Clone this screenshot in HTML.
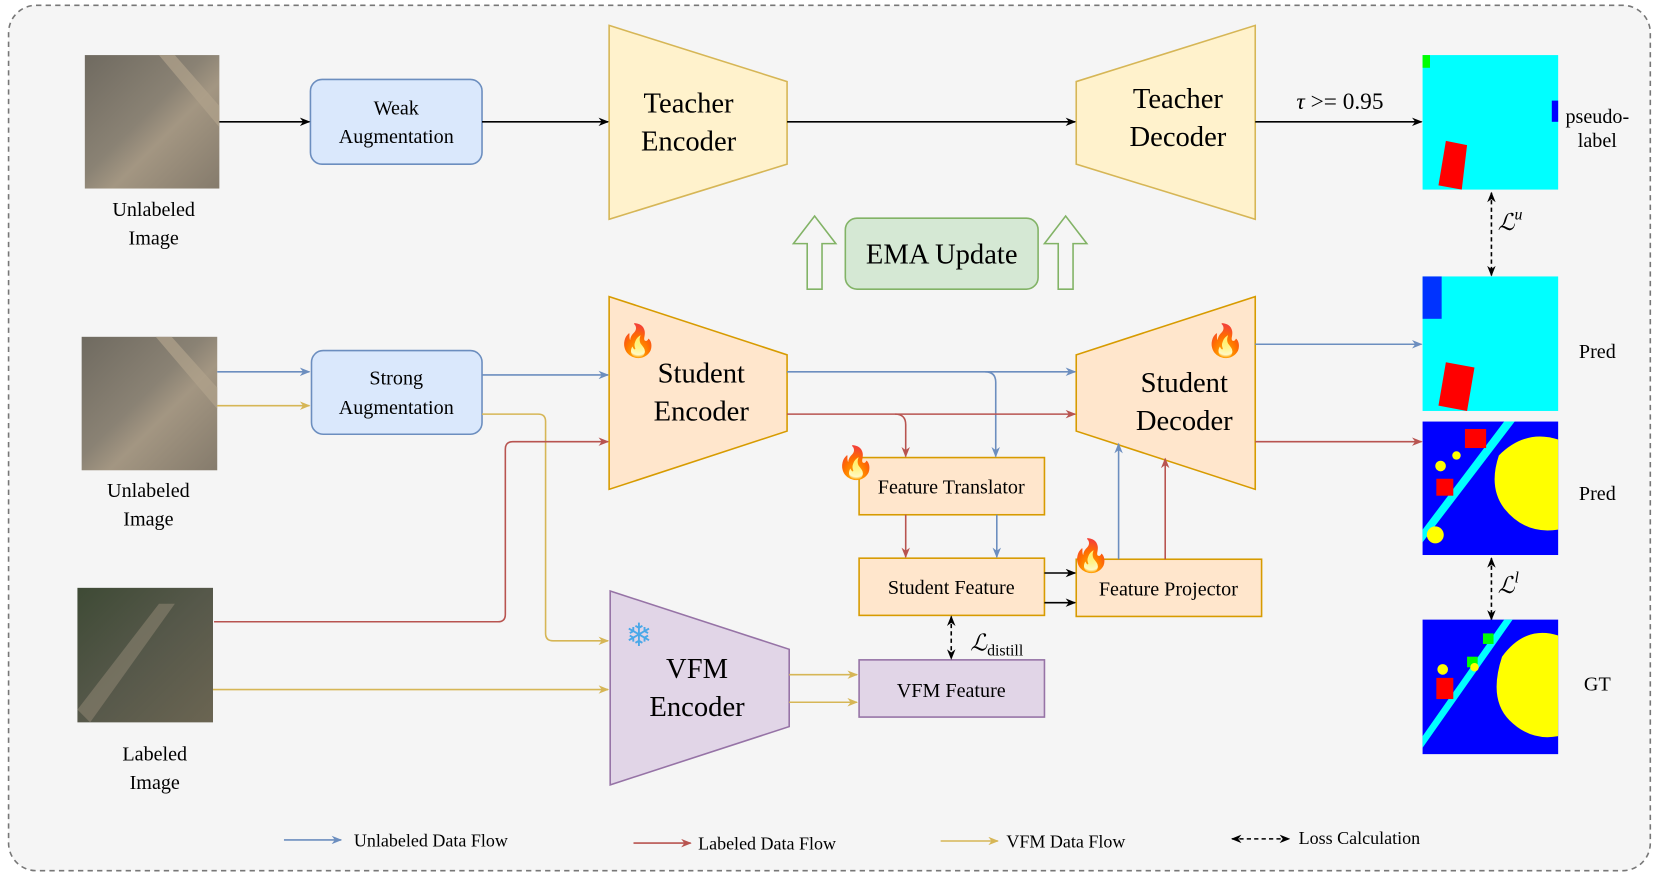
<!DOCTYPE html>
<html><head><meta charset="utf-8"><style>
html,body{margin:0;padding:0;background:#fff;}
svg{display:block;}
text{font-family:"Liberation Serif",serif;fill:#000;}
</style></head><body>
<svg width="1661" height="877" viewBox="0 0 1568 828" xmlns="http://www.w3.org/2000/svg">
<defs>
<marker id="ab" markerWidth="10" markerHeight="8" refX="9" refY="4" orient="auto" markerUnits="userSpaceOnUse"><path d="M0,0 L10,4 L0,8 L3,4z" fill="#6c8ebf"/></marker>
<marker id="ar" markerWidth="10" markerHeight="8" refX="9" refY="4" orient="auto" markerUnits="userSpaceOnUse"><path d="M0,0 L10,4 L0,8 L3,4z" fill="#b85450"/></marker>
<marker id="ay" markerWidth="10" markerHeight="8" refX="9" refY="4" orient="auto" markerUnits="userSpaceOnUse"><path d="M0,0 L10,4 L0,8 L3,4z" fill="#d6b656"/></marker>
<marker id="ak" markerWidth="10" markerHeight="8" refX="9" refY="4" orient="auto" markerUnits="userSpaceOnUse"><path d="M0,0 L10,4 L0,8 L3,4z" fill="#000"/></marker>
<marker id="aks" markerWidth="10" markerHeight="8" refX="1" refY="4" orient="auto" markerUnits="userSpaceOnUse"><path d="M10,0 L0,4 L10,8 L7,4z" fill="#000"/></marker>
<linearGradient id="aer" x1="0" y1="0" x2="1" y2="1">
<stop offset="0" stop-color="#6f6a60"/><stop offset="0.45" stop-color="#8a8274"/><stop offset="0.6" stop-color="#a39682"/><stop offset="1" stop-color="#857b6c"/></linearGradient>
<linearGradient id="lab" x1="0" y1="0" x2="1" y2="1">
<stop offset="0" stop-color="#3e4a35"/><stop offset="0.5" stop-color="#56584a"/><stop offset="1" stop-color="#6b6552"/></linearGradient>
</defs>
<rect x="0" y="0" width="1568" height="828" fill="#fff"/>
<rect x="8" y="5" width="1550" height="817" rx="26" fill="#f5f5f5" stroke="#777" stroke-width="1.5" stroke-dasharray="5,4"/>

<!-- images -->
<rect x="80" y="52" width="127" height="126" fill="url(#aer)"/>
<path d="M150,52 L207,120 L207,100 L165,52z" fill="#b0a38c" opacity="0.7"/>
<text x="145" y="204" font-size="19" text-anchor="middle">Unlabeled</text>
<text x="145" y="231" font-size="19" text-anchor="middle">Image</text>
<rect x="77" y="318" width="128" height="126" fill="url(#aer)"/>
<path d="M147,318 L205,386 L205,366 L162,318z" fill="#b0a38c" opacity="0.7"/>
<text x="140" y="469" font-size="19" text-anchor="middle">Unlabeled</text>
<text x="140" y="496" font-size="19" text-anchor="middle">Image</text>
<rect x="73" y="555" width="128" height="127" fill="url(#lab)"/>
<path d="M73,670 L150,570 L165,570 L85,682z" fill="#8a8270" opacity="0.6"/>
<text x="146" y="718" font-size="19" text-anchor="middle">Labeled</text>
<text x="146" y="745" font-size="19" text-anchor="middle">Image</text>

<!-- aug boxes -->
<rect x="293" y="75" width="162" height="80" rx="11" fill="#dae8fc" stroke="#6c8ebf" stroke-width="1.5"/>
<text x="374" y="108" font-size="19" text-anchor="middle">Weak</text>
<text x="374" y="135" font-size="19" text-anchor="middle">Augmentation</text>
<rect x="294" y="331" width="161" height="79" rx="11" fill="#dae8fc" stroke="#6c8ebf" stroke-width="1.5"/>
<text x="374" y="363" font-size="19" text-anchor="middle">Strong</text>
<text x="374" y="391" font-size="19" text-anchor="middle">Augmentation</text>

<!-- teacher -->
<path d="M575,24 L743,77 L743,155 L575,207z" fill="#fff2cc" stroke="#d6b656" stroke-width="1.5"/>
<text x="650" y="106" font-size="27" text-anchor="middle">Teacher</text>
<text x="650" y="142" font-size="27" text-anchor="middle">Encoder</text>
<path d="M1016,77 L1185,24 L1185,207 L1016,155z" fill="#fff2cc" stroke="#d6b656" stroke-width="1.5"/>
<text x="1112" y="102" font-size="27" text-anchor="middle">Teacher</text>
<text x="1112" y="138" font-size="27" text-anchor="middle">Decoder</text>

<line x1="207" y1="115" x2="292" y2="115" stroke="#000" stroke-width="1.5" marker-end="url(#ak)"/>
<line x1="455" y1="115" x2="574" y2="115" stroke="#000" stroke-width="1.5" marker-end="url(#ak)"/>
<line x1="743" y1="115" x2="1015" y2="115" stroke="#000" stroke-width="1.5" marker-end="url(#ak)"/>
<line x1="1185" y1="115" x2="1342" y2="115" stroke="#000" stroke-width="1.5" marker-end="url(#ak)"/>
<text x="1265" y="103" font-size="22" text-anchor="middle"><tspan font-style="italic">τ</tspan> &gt;= 0.95</text>

<!-- EMA -->
<rect x="798" y="206" width="182" height="67" rx="11" fill="#d5e8d4" stroke="#82b366" stroke-width="1.5"/>
<text x="889" y="249" font-size="27" text-anchor="middle">EMA Update</text>
<path d="M762,273 L762,230 L749,230 L769,204 L789,230 L776,230 L776,273z" fill="none" stroke="#82b366" stroke-width="1.5"/>
<path d="M999,273 L999,230 L986,230 L1006,204 L1026,230 L1013,230 L1013,273z" fill="none" stroke="#82b366" stroke-width="1.5"/>

<!-- student -->
<path d="M575,280 L743,335 L743,407 L575,462z" fill="#ffe6cc" stroke="#d79b00" stroke-width="1.5"/>
<text x="662" y="361" font-size="27" text-anchor="middle">Student</text>
<text x="662" y="397" font-size="27" text-anchor="middle">Encoder</text>
<path d="M1016,335 L1185,280 L1185,462 L1016,407z" fill="#ffe6cc" stroke="#d79b00" stroke-width="1.5"/>
<text x="1118" y="370" font-size="27" text-anchor="middle">Student</text>
<text x="1118" y="406" font-size="27" text-anchor="middle">Decoder</text>

<!-- VFM -->
<path d="M576,558 L745,613 L745,686 L576,741z" fill="#e1d5e7" stroke="#9673a6" stroke-width="1.5"/>
<text x="658" y="640" font-size="27" text-anchor="middle">VFM</text>
<text x="658" y="676" font-size="27" text-anchor="middle">Encoder</text>
<text x="603" y="610" font-size="30" text-anchor="middle" style="fill:#4aa8e8">❄</text>

<!-- small boxes -->
<rect x="811" y="432" width="175" height="54" fill="#ffe6cc" stroke="#d79b00" stroke-width="1.5"/>
<text x="898" y="466" font-size="19" text-anchor="middle">Feature Translator</text>
<rect x="811" y="527" width="175" height="54" fill="#ffe6cc" stroke="#d79b00" stroke-width="1.5"/>
<text x="898" y="561" font-size="19" text-anchor="middle">Student Feature</text>
<rect x="1016" y="528" width="175" height="54" fill="#ffe6cc" stroke="#d79b00" stroke-width="1.5"/>
<text x="1103" y="562" font-size="19" text-anchor="middle">Feature Projector</text>
<rect x="811" y="623" width="175" height="54" fill="#e1d5e7" stroke="#9673a6" stroke-width="1.5"/>
<text x="898" y="658" font-size="19" text-anchor="middle">VFM Feature</text>

<!-- fire icons -->
<g font-size="30" text-anchor="middle">
<text x="602" y="332">🔥</text><text x="808" y="447">🔥</text><text x="1030" y="535">🔥</text><text x="1157" y="332">🔥</text>
</g>

<!-- flows -->
<g fill="none" stroke-width="1.5">
<line x1="205" y1="351" x2="292" y2="351" stroke="#6c8ebf" marker-end="url(#ab)"/>
<line x1="205" y1="383" x2="292" y2="383" stroke="#d6b656" marker-end="url(#ay)"/>
<line x1="455" y1="354" x2="574" y2="354" stroke="#6c8ebf" marker-end="url(#ab)"/>
<path d="M455,391 L508,391 Q515,391 515,398 L515,598 Q515,605 522,605 L574,605" stroke="#d6b656" marker-end="url(#ay)"/>
<path d="M202,587 L470,587 Q477,587 477,580 L477,424 Q477,417 484,417 L574,417" stroke="#b85450" marker-end="url(#ar)"/>
<line x1="201" y1="651" x2="574" y2="651" stroke="#d6b656" marker-end="url(#ay)"/>
<line x1="745" y1="637" x2="809" y2="637" stroke="#d6b656" marker-end="url(#ay)"/>
<line x1="745" y1="663" x2="809" y2="663" stroke="#d6b656" marker-end="url(#ay)"/>
<line x1="743" y1="351" x2="1015" y2="351" stroke="#6c8ebf" marker-end="url(#ab)"/>
<path d="M930,351 Q940,351 940,361 L940,431" stroke="#6c8ebf" marker-end="url(#ab)"/>
<line x1="743" y1="391" x2="1015" y2="391" stroke="#b85450" marker-end="url(#ar)"/>
<path d="M845,391 Q855,391 855,401 L855,431" stroke="#b85450" marker-end="url(#ar)"/>
<line x1="855" y1="486" x2="855" y2="526" stroke="#b85450" marker-end="url(#ar)"/>
<line x1="941" y1="486" x2="941" y2="526" stroke="#6c8ebf" marker-end="url(#ab)"/>
<line x1="986" y1="541" x2="1015" y2="541" stroke="#000" marker-end="url(#ak)"/>
<line x1="986" y1="569" x2="1015" y2="569" stroke="#000" marker-end="url(#ak)"/>
<line x1="1056" y1="528" x2="1056" y2="419" stroke="#6c8ebf" marker-end="url(#ab)"/>
<line x1="1100" y1="528" x2="1100" y2="433" stroke="#b85450" marker-end="url(#ar)"/>
<line x1="1185" y1="325" x2="1342" y2="325" stroke="#6c8ebf" marker-end="url(#ab)"/>
<line x1="1185" y1="417" x2="1342" y2="417" stroke="#b85450" marker-end="url(#ar)"/>
<line x1="898" y1="582" x2="898" y2="622" stroke="#000" stroke-dasharray="4,3" marker-start="url(#aks)" marker-end="url(#ak)"/>
<line x1="1408" y1="182" x2="1408" y2="260" stroke="#000" stroke-dasharray="4,3" marker-start="url(#aks)" marker-end="url(#ak)"/>
<line x1="1408" y1="527" x2="1408" y2="585" stroke="#000" stroke-dasharray="4,3" marker-start="url(#aks)" marker-end="url(#ak)"/>
</g>
<text x="916" y="614" font-size="22" font-style="italic">ℒ<tspan font-size="15" font-style="normal" dy="5">distill</tspan></text>
<text x="1414" y="217" font-size="22" font-style="italic">ℒ<tspan font-size="15" dy="-10">u</tspan></text>
<text x="1414" y="560" font-size="22" font-style="italic">ℒ<tspan font-size="15" dy="-10">l</tspan></text>

<!-- seg maps -->
<rect x="1343" y="52" width="128" height="127" fill="#00ffff"/>
<rect x="1343" y="52" width="7" height="12" fill="#00ff00"/>
<rect x="1465" y="95" width="6" height="20" fill="#0000ff"/>
<path d="M1365,133 L1385,137 L1380,179 L1358,175z" fill="#ff0000"/>
<text x="1508" y="116" font-size="19" text-anchor="middle">pseudo-</text>
<text x="1508" y="139" font-size="19" text-anchor="middle">label</text>

<rect x="1343" y="261" width="128" height="127" fill="#00ffff"/>
<rect x="1343" y="261" width="18" height="40" fill="#0000ff" opacity="0.8"/>
<path d="M1365,342 L1392,347 L1385,388 L1358,383z" fill="#ff0000"/>
<text x="1508" y="338" font-size="19" text-anchor="middle">Pred</text>

<rect x="1343" y="398" width="128" height="126" fill="#0000ff"/>
<path d="M1343,500 L1420,398 L1430,398 L1343,512z" fill="#00ffff"/>
<path d="M1415,430 Q1440,405 1471,415 L1471,500 Q1440,505 1420,480 Q1405,460 1415,430z" fill="#ffff00"/>
<rect x="1383" y="405" width="20" height="18" fill="#ff0000"/>
<rect x="1356" y="452" width="16" height="16" fill="#ff0000"/>
<circle cx="1360" cy="440" r="5" fill="#ffff00"/><circle cx="1375" cy="430" r="4" fill="#ffff00"/><circle cx="1355" cy="505" r="8" fill="#ffff00"/>
<text x="1508" y="472" font-size="19" text-anchor="middle">Pred</text>

<rect x="1343" y="585" width="128" height="127" fill="#0000ff"/>
<path d="M1343,695 L1420,585 L1428,585 L1343,706z" fill="#00ffff"/>
<path d="M1418,620 Q1440,590 1471,600 L1471,695 Q1445,700 1425,680 Q1405,660 1418,620z" fill="#ffff00"/>
<rect x="1356" y="640" width="16" height="20" fill="#ff0000"/>
<rect x="1400" y="598" width="10" height="10" fill="#00ff00"/>
<rect x="1385" y="620" width="10" height="10" fill="#00ff00"/>
<circle cx="1362" cy="632" r="5" fill="#ffff00"/><circle cx="1392" cy="630" r="4" fill="#ffff00"/>
<text x="1508" y="652" font-size="19" text-anchor="middle">GT</text>

<!-- legend -->
<line x1="268" y1="793" x2="322" y2="793" stroke="#6c8ebf" stroke-width="1.5" marker-end="url(#ab)"/>
<text x="334" y="799" font-size="17">Unlabeled Data Flow</text>
<line x1="598" y1="796" x2="652" y2="796" stroke="#b85450" stroke-width="1.5" marker-end="url(#ar)"/>
<text x="659" y="802" font-size="17">Labeled Data Flow</text>
<line x1="888" y1="794" x2="942" y2="794" stroke="#d6b656" stroke-width="1.5" marker-end="url(#ay)"/>
<text x="950" y="800" font-size="17">VFM Data Flow</text>
<line x1="1163" y1="792" x2="1217" y2="792" stroke="#000" stroke-width="1.5" stroke-dasharray="4,3" marker-start="url(#aks)" marker-end="url(#ak)"/>
<text x="1226" y="797" font-size="17">Loss Calculation</text>
</svg>
</body></html>
